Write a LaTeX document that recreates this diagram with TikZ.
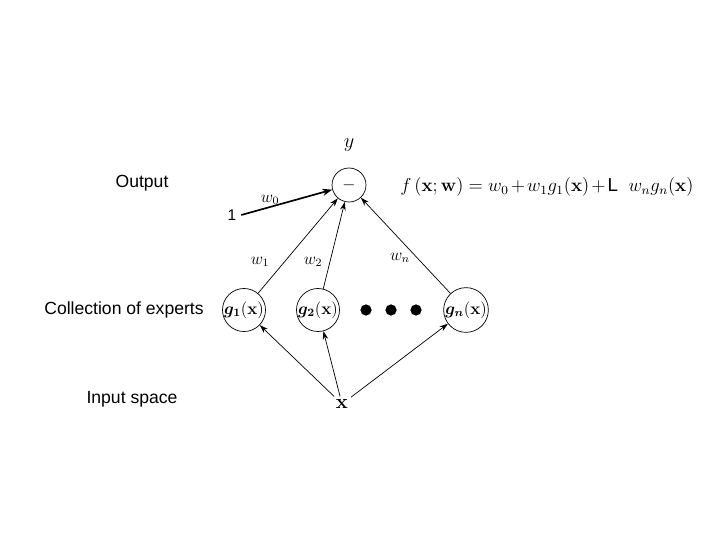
\documentclass[tikz,border=0pt]{standalone}
\usepackage{amsmath}
\usepackage[no-math]{fontspec}
\setmainfont{Liberation Sans}
\usetikzlibrary{arrows.meta, positioning}
\tikzset{
  expert/.style={circle, draw, line width=0.5pt, minimum size=0.85cm,
    inner sep=0pt, font=\large},
  lbl/.style={font=\fontsize{12.5}{14}\selectfont},
  wlbl/.style={font=\large, inner sep=1pt},
  arrow/.style={-{Stealth[length=6pt,width=4pt]}, line width=0.5pt},
  bigarrow/.style={-{Stealth[length=7pt,width=5pt]}, line width=1.2pt},
  dot/.style={circle, fill, minimum size=8pt, inner sep=0pt}
}
\begin{document}
\begin{tikzpicture}[x=0.025cm, y=-0.025cm]
  \useasboundingbox (0,0) rectangle (720,540);

  % Row titles
  \node[lbl] (ttlout) at (142,183) {Output};
  \node[lbl] (ttlexp) at (124,310) {Collection of experts};
  \node[lbl] (ttlinp) at (132,399) {Input space};

  % Output unit and its formula
  \node[expert] (out) at (349,185) {$-$};
  \node[font=\Large] (yout) at (349,145) {$y$};
  \node[font=\fontsize{12}{14}\selectfont, anchor=west, inner sep=0pt] (formula) at (400,187)
    {\scalebox{1.11}{$f\,(\mathbf{x};\mathbf{w}) = w_0\mkern-2mu+\mkern-2mu w_1 g_1(\mathbf{x})\mkern-2mu+\mkern-2mu\text{L}\;\; w_n g_n(\mathbf{x})$}};

  % Experts
  \node[expert] (g1) at (244,310) {$\boldsymbol{g_1}(\mathbf{x})$};
  \node[expert] (g2) at (318,310) {$\boldsymbol{g_2}(\mathbf{x})$};
  \node[expert] (gn) at (466,310) {$\boldsymbol{g_n}(\mathbf{x})$};
  \node[dot] (d1) at (366,310) {};
  \node[dot] (d2) at (391,310) {};
  \node[dot] (d3) at (416,310) {};

  % Input and bias
  \node[font=\Large, inner sep=2pt] (inp) at (342,404) {$\mathbf{x}$};
  \node[font=\fontsize{11}{13}\selectfont] (one) at (232,215) {1};

  % Connections
  \draw[bigarrow] (one.east) -- (out);
  \draw[arrow] (g1) -- (out);
  \draw[arrow] (g2) -- (out);
  \draw[arrow] (gn) -- (out);
  \draw[arrow] (inp) -- (g1);
  \draw[arrow] (inp) -- (g2);
  \draw[arrow] (inp) -- (gn);

  % Weights
  \node[wlbl] (w0) at (270,200) {$w_0$};
  \node[wlbl] (w1) at (260,262) {$w_1$};
  \node[wlbl] (w2) at (313,262) {$w_2$};
  \node[wlbl] (wn) at (400,258) {$w_n$};
\end{tikzpicture}
\end{document}
